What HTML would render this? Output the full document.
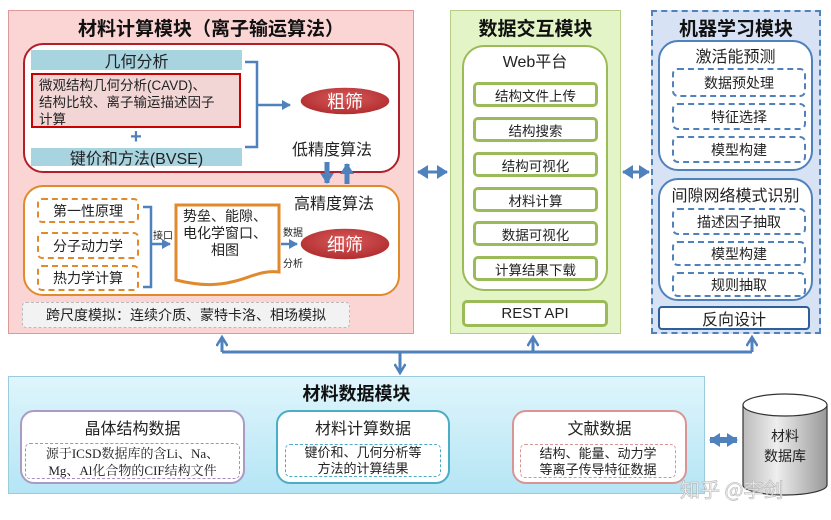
<!DOCTYPE html>
<html><head><meta charset="utf-8"><style>
*{margin:0;padding:0;box-sizing:border-box}
body{width:831px;height:520px;background:#fff;position:relative;overflow:hidden;font-family:"Liberation Sans","Noto Sans CJK SC",sans-serif;color:#222}
.a{position:absolute}
.c{display:flex;align-items:center;justify-content:center;text-align:center}
.t{font-weight:bold;font-size:19px;color:#111}
.wi{position:absolute;left:473px;width:125px;height:25px;border:3px solid #9bbb59;border-radius:5px;background:#fff;font-size:13.5px}
.mi{position:absolute;left:672px;width:134px;border:2px dashed #4f81bd;border-radius:6px;font-size:14px}
.oi{position:absolute;left:37px;width:102px;border:2px dashed #e08a2c;border-radius:5px;font-size:14px;background:#fff}
</style></head><body>
<div class="a" style="left:8px;top:10px;width:406px;height:324px;background:#fbd4d4;border:1px solid #d99"></div>
<div class="a c t" style="left:8px;top:14px;width:406px;height:26px">材料计算模块（离子输运算法）</div>
<div class="a" style="left:23px;top:43px;width:377px;height:130px;background:#fff;border:2.5px solid #b0202a;border-radius:20px"></div>
<div class="a c" style="left:31px;top:50px;width:211px;height:20px;background:#a8d4e0;font-size:16px">几何分析</div>
<div class="a" style="left:31px;top:73px;width:210px;height:55px;background:#f2d6d6;border:2px solid #c00;font-size:13.5px;line-height:17px;padding:2px 6px">微观结构几何分析(CAVD)、<br>结构比较、离子输运描述因子<br>计算</div>
<div class="a c" style="left:126px;top:128px;width:20px;height:18px;color:#4f81bd;font-size:20px;font-weight:bold">+</div>
<div class="a c" style="left:31px;top:148px;width:211px;height:18px;background:#a8d4e0;font-size:16px">键价和方法(BVSE)</div>
<div class="a" style="left:292px;top:136px;width:95px;font-size:16px">低精度算法</div>
<div class="a" style="left:23px;top:185px;width:377px;height:111px;background:#fff;border:2.5px solid #e08a2c;border-radius:20px"></div>
<div class="a" style="left:294px;top:190px;font-size:16px">高精度算法</div>
<div class="oi c" style="top:198px;height:25px">第一性原理</div>
<div class="oi c" style="top:232px;height:27px">分子动力学</div>
<div class="oi c" style="top:265px;height:26px">热力学计算</div>
<div class="a c" style="left:22px;top:302px;width:328px;height:26px;background:#f2f2f2;border:1.5px dashed #bbb;border-radius:4px;font-size:14px">跨尺度模拟：连续介质、蒙特卡洛、相场模拟</div>
<div class="a" style="left:450px;top:10px;width:171px;height:324px;background:#e3f5c6;border:1px solid #b5cf88"></div>
<div class="a c t" style="left:450px;top:14px;width:171px;height:26px">数据交互模块</div>
<div class="a" style="left:462px;top:45px;width:146px;height:246px;background:#fff;border:2.5px solid #9bbb59;border-radius:22px"></div>
<div class="a c" style="left:462px;top:49px;width:146px;height:22px;font-size:16px">Web平台</div>
<div class="wi c" style="top:82px">结构文件上传</div>
<div class="wi c" style="top:117px">结构搜索</div>
<div class="wi c" style="top:152px">结构可视化</div>
<div class="wi c" style="top:187px">材料计算</div>
<div class="wi c" style="top:221px">数据可视化</div>
<div class="wi c" style="top:256px">计算结果下载</div>
<div class="a c" style="left:462px;top:300px;width:146px;height:27px;border:3px solid #9bbb59;border-radius:5px;background:#fff;font-size:15px">REST API</div>
<div class="a" style="left:651px;top:10px;width:170px;height:324px;background:#d7e3f5;border:2px dashed #4f81bd"></div>
<div class="a c t" style="left:651px;top:14px;width:170px;height:26px">机器学习模块</div>
<div class="a" style="left:658px;top:40px;width:155px;height:131px;background:#fff;border:2px solid #4f81bd;border-radius:20px"></div>
<div class="a c" style="left:658px;top:44px;width:155px;height:22px;font-size:16px">激活能预测</div>
<div class="mi c" style="top:68px;height:29px">数据预处理</div>
<div class="mi c" style="top:103px;height:27px">特征选择</div>
<div class="mi c" style="top:136px;height:27px">模型构建</div>
<div class="a" style="left:658px;top:178px;width:155px;height:123px;background:#fff;border:2px solid #4f81bd;border-radius:20px"></div>
<div class="a c" style="left:658px;top:183px;width:155px;height:22px;font-size:16px">间隙网络模式识别</div>
<div class="mi c" style="top:208px;height:27px">描述因子抽取</div>
<div class="mi c" style="top:241px;height:25px">模型构建</div>
<div class="mi c" style="top:272px;height:25px">规则抽取</div>
<div class="a c" style="left:658px;top:306px;width:152px;height:24px;background:#fff;border:2.5px solid #2f5f9a;border-radius:4px;font-size:16px">反向设计</div>
<div class="a" style="left:8px;top:376px;width:697px;height:118px;background:linear-gradient(#dff5fc,#b5e5f5);border:1px solid #9cd"></div>
<div class="a c t" style="left:8px;top:381px;width:697px;height:24px;font-size:18px">材料数据模块</div>
<div class="a" style="left:20px;top:410px;width:225px;height:74px;background:#fff;border:2px solid #a99bc4;border-radius:14px"></div>
<div class="a c" style="left:20px;top:416px;width:225px;height:22px;font-size:16px">晶体结构数据</div>
<div class="a" style="left:25px;top:443px;width:215px;height:36px;border:1.5px dashed #a38fc4;border-radius:5px;font-family:'Liberation Serif','Noto Serif CJK SC',serif;font-size:13px;line-height:17px;text-align:center;padding-top:1px">源于ICSD数据库的含Li、Na、<br>Mg、Al化合物的CIF结构文件</div>
<div class="a" style="left:276px;top:410px;width:174px;height:74px;background:#fff;border:2.5px solid #4bacc6;border-radius:14px"></div>
<div class="a c" style="left:276px;top:416px;width:174px;height:22px;font-size:16px">材料计算数据</div>
<div class="a" style="left:285px;top:444px;width:156px;height:33px;border:1.5px dashed #4bacc6;border-radius:5px;font-size:13px;line-height:16px;text-align:center">键价和、几何分析等<br>方法的计算结果</div>
<div class="a" style="left:512px;top:410px;width:175px;height:74px;background:#fff;border:2px solid #d99594;border-radius:14px"></div>
<div class="a c" style="left:512px;top:416px;width:175px;height:22px;font-size:16px">文献数据</div>
<div class="a" style="left:520px;top:444px;width:156px;height:34px;border:1.5px dashed #d99594;border-radius:5px;font-size:13px;line-height:16px;text-align:center;padding-top:1px">结构、能量、动力学<br>等离子传导特征数据</div>
<svg class="a" style="left:0;top:0" width="831" height="520">
<defs>
<marker id="ar" markerWidth="10" markerHeight="10" refX="8" refY="5" orient="auto-start-reverse" markerUnits="userSpaceOnUse"><path d="M0,0L9,5L0,10z" fill="#4f81bd"/></marker>
<marker id="ab" markerWidth="14" markerHeight="14" refX="10" refY="7" orient="auto-start-reverse" markerUnits="userSpaceOnUse"><path d="M0,0L11,7L0,14z" fill="#4f81bd"/></marker>
<marker id="ao" markerWidth="14" markerHeight="12" refX="10" refY="6" orient="auto-start-reverse" markerUnits="userSpaceOnUse"><path d="M1,0.5L10,6L1,11.5" fill="none" stroke="#4f81bd" stroke-width="2.5"/></marker>
<radialGradient id="eg" cx="0.5" cy="0.4" r="0.6"><stop offset="0" stop-color="#d85a5a"/><stop offset="1" stop-color="#b02c2e"/></radialGradient>
<linearGradient id="cg" x1="0" x2="1"><stop offset="0" stop-color="#bbb"/><stop offset="0.4" stop-color="#eee"/><stop offset="1" stop-color="#999"/></linearGradient>
</defs>
<path d="M245,62H257V147H245M257,105H290" fill="none" stroke="#4f81bd" stroke-width="2.5" marker-end="url(#ar)"/>
<ellipse cx="345" cy="101" rx="45" ry="14" fill="url(#eg)" stroke="#fff" stroke-width="1.5"/>
<text x="345" y="108" font-size="18" fill="#fff" text-anchor="middle" font-family="Noto Sans CJK SC">粗筛</text>
<ellipse cx="345" cy="244" rx="45" ry="16" fill="url(#eg)" stroke="#fff" stroke-width="1.5"/>
<text x="345" y="251" font-size="18" fill="#fff" text-anchor="middle" font-family="Noto Sans CJK SC">细筛</text>
<path d="M327,162V183" stroke="#4f81bd" stroke-width="5" marker-end="url(#ab)"/>
<path d="M347,184V164" stroke="#4f81bd" stroke-width="5" marker-end="url(#ab)"/>
<path d="M143,207H151V287H143M151,244H170" fill="none" stroke="#4f81bd" stroke-width="2.5" marker-end="url(#ar)"/>
<path d="M176,205H279V272C250,268 235,295 176,280Z" fill="#fff" stroke="#e08a2c" stroke-width="3"/>
<path d="M281,244H297" stroke="#4f81bd" stroke-width="2.5" marker-end="url(#ar)"/>
<path d="M418,172H447" stroke="#4f81bd" stroke-width="3" marker-start="url(#ab)" marker-end="url(#ab)"/>
<path d="M623,172H649" stroke="#4f81bd" stroke-width="3" marker-start="url(#ab)" marker-end="url(#ab)"/>
<path d="M222,352H752" fill="none" stroke="#4f81bd" stroke-width="3"/>
<path d="M222,352V337" stroke="#4f81bd" stroke-width="3" marker-end="url(#ao)"/>
<path d="M533,352V337" stroke="#4f81bd" stroke-width="3" marker-end="url(#ao)"/>
<path d="M752,352V337" stroke="#4f81bd" stroke-width="3" marker-end="url(#ao)"/>
<path d="M400,352V373" stroke="#4f81bd" stroke-width="3" marker-end="url(#ao)"/>
<path d="M710,440H737" stroke="#4f81bd" stroke-width="6" marker-start="url(#ab)" marker-end="url(#ab)"/>
<path d="M743,405V485A42,10 0 0 0 827,485V405" fill="url(#cg)" stroke="#333" stroke-width="1.2"/>
<ellipse cx="785" cy="405" rx="42" ry="11" fill="#fff" stroke="#333" stroke-width="1.2"/>
<text x="785" y="441" font-size="14" text-anchor="middle" font-family="Noto Sans CJK SC" fill="#222">材料</text>
<text x="785" y="461" font-size="14" text-anchor="middle" font-family="Noto Sans CJK SC" fill="#222">数据库</text>
<text x="680" y="497" font-size="20" font-family="Noto Sans CJK SC" fill="#fff" stroke="#bbb" stroke-width="0.8" opacity="0.9">知乎 @李剑</text>
</svg>
<div class="a" style="left:153px;top:227px;font-size:10px">接口</div>
<div class="a" style="left:283px;top:224px;font-size:10px">数据</div>
<div class="a" style="left:283px;top:255px;font-size:10px">分析</div>
<div class="a" style="left:183px;top:208px;width:96px;font-size:14px;line-height:17px">势垒、能隙、<br>电化学窗口、<br><span style="padding-left:28px">相图</span></div>
</body></html>
